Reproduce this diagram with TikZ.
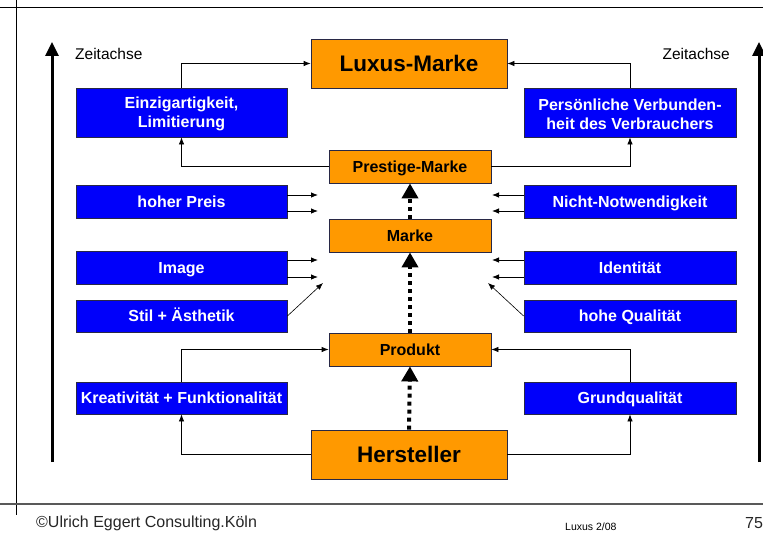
\documentclass[tikz,border=0pt]{standalone}
\usepackage{fontspec}
\setmainfont{Liberation Sans}
\usetikzlibrary{arrows.meta}
\definecolor{bluebox}{RGB}{0,0,250}
\definecolor{orangebox}{RGB}{255,153,0}
\definecolor{boxline}{RGB}{40,40,70}
\tikzset{
  bluenode/.style={draw=boxline, line width=0.8pt, fill=bluebox, text=white,
    font=\fontsize{16}{19}\selectfont\bfseries, align=center, inner sep=0pt,
    minimum width=211pt},
  oneline/.style={text height=13pt, text depth=2pt},
  orangenode/.style={draw=boxline, line width=0.8pt, fill=orangebox, text=black,
    font=\fontsize{16}{19}\selectfont\bfseries, align=center, inner sep=0pt,
    minimum width=162pt, minimum height=33pt, oneline},
  bignode/.style={orangenode, font=\fontsize{22.5}{26}\selectfont\bfseries,
    minimum width=196pt, minimum height=49pt, text height=17.5pt, text depth=1.5pt},
  thinarrow/.style={line width=0.8pt, -{Latex[length=7pt,width=5.5pt]}},
  dotarrow/.style={line width=4pt, dash pattern=on 4pt off 4pt,
    -{Triangle[length=15pt,width=16pt]}},
  timearrow/.style={line width=3pt, -{Triangle[length=14pt,width=13pt]}},
  plain/.style={font=\fontsize{15.5}{18}\selectfont, inner sep=0pt},
}
\begin{document}
\begin{tikzpicture}[x=1pt,y=-1pt]
\useasboundingbox (0,0) rectangle (763,535);
% frame
\draw[line width=1pt] (0,8) -- (763,8);
\draw[line width=1pt] (16,0) -- (16,515);
\draw[line width=1.8pt, black!65] (0,504) -- (763,504);

% time axes
\coordinate (la0) at (52,462); \coordinate (la1) at (52,42);
\coordinate (ra0) at (759,462); \coordinate (ra1) at (759,42);
\draw[timearrow] (la0) -- (la1);
\draw[timearrow] (ra0) -- (ra1);
\node[plain, anchor=west] (zl) at (75,54) {Zeitachse};
\node[plain, anchor=east] (zr) at (730,54) {Zeitachse};

% orange nodes
\node[bignode] (lux) at (409,63.5) {Luxus-Marke};
\node[orangenode] (pre) at (410,166.5) {Prestige-Marke};
\node[orangenode] (mar) at (410,235.5) {Marke};
\node[orangenode] (pro) at (410,349.5) {Produkt};
\node[bignode] (her) at (409,454.5) {Hersteller};

% blue nodes
\node[bluenode, minimum height=49pt] (ein) at (181.5,112.5) {\rule{0pt}{15pt}Einzigartigkeit,\\Limitierung};
\node[bluenode, minimum height=49pt, minimum width=212pt] (per) at (630,112.5) {\rule{0pt}{15pt}Persönliche Verbunden-\\heit des Verbrauchers};
\node[bluenode, oneline, minimum height=33pt] (hp) at (181.5,201.5) {hoher Preis};
\node[bluenode, oneline, minimum height=33pt, minimum width=212pt] (nn) at (630,201.5) {Nicht-Notwendigkeit};
\node[bluenode, oneline, minimum height=33pt] (img) at (181.5,267.5) {Image};
\node[bluenode, oneline, minimum height=33pt, minimum width=212pt] (ide) at (630,267.5) {Identität};
\node[bluenode, oneline, minimum height=32pt] (sti) at (181.5,316) {Stil + Ästhetik};
\node[bluenode, oneline, minimum height=32pt, minimum width=212pt] (hq) at (630,316) {hohe Qualität};
\node[bluenode, oneline, minimum height=32pt] (kre) at (181.5,398) {Kreativität + Funktionalität};
\node[bluenode, oneline, minimum height=32pt, minimum width=212pt] (gru) at (630,398) {Grundqualität};

% elbow connectors
\draw[thinarrow] (ein.north) |- (lux.west);
\draw[thinarrow] (per.north) |- (lux.east);
\draw[thinarrow] (pre.west) -| (ein.south);
\draw[thinarrow] (pre.east) -| (per.south);
\draw[thinarrow] (kre.north) |- (pro.west);
\draw[thinarrow] (gru.north) |- (pro.east);
\draw[thinarrow] (her.west) -| (kre.south);
\draw[thinarrow] (her.east) -| (gru.south);

% short arrows
\coordinate (hp1) at (318,195); \coordinate (hp2) at (318,211);
\coordinate (nn1) at (492,195); \coordinate (nn2) at (492,211);
\coordinate (im1) at (318,260); \coordinate (im2) at (318,277);
\coordinate (id1) at (492,260); \coordinate (id2) at (492,277);
\coordinate (st1) at (323,283); \coordinate (hq1) at (488,283);
\draw[thinarrow] (hp.east |- hp1) -- (hp1);
\draw[thinarrow] (hp.east |- hp2) -- (hp2);
\draw[thinarrow] (nn.west |- nn1) -- (nn1);
\draw[thinarrow] (nn.west |- nn2) -- (nn2);
\draw[thinarrow] (img.east |- im1) -- (im1);
\draw[thinarrow] (img.east |- im2) -- (im2);
\draw[thinarrow] (ide.west |- id1) -- (id1);
\draw[thinarrow] (ide.west |- id2) -- (id2);
\draw[thinarrow, line width=0.6pt] (sti.east) -- (st1);
\draw[thinarrow, line width=0.6pt] (hq.west) -- (hq1);

% dotted growth arrows
\draw[dotarrow] (her.north) -- (pro.south);
\draw[dotarrow] (pro.north) -- (mar.south);
\draw[dotarrow] (mar.north) -- (pre.south);

% footer
\node[anchor=west, font=\fontsize{16}{18}\selectfont, inner sep=0pt, text=black!85] (f1) at (36,523) {©Ulrich Eggert Consulting.Köln};
\node[anchor=west, font=\fontsize{10.5}{12}\selectfont, inner sep=0pt] (f2) at (565,527) {Luxus 2/08};
\node[anchor=west, font=\fontsize{16}{18}\selectfont, inner sep=0pt, text=black!85] (f3) at (745,523) {75};
\end{tikzpicture}
\end{document}
